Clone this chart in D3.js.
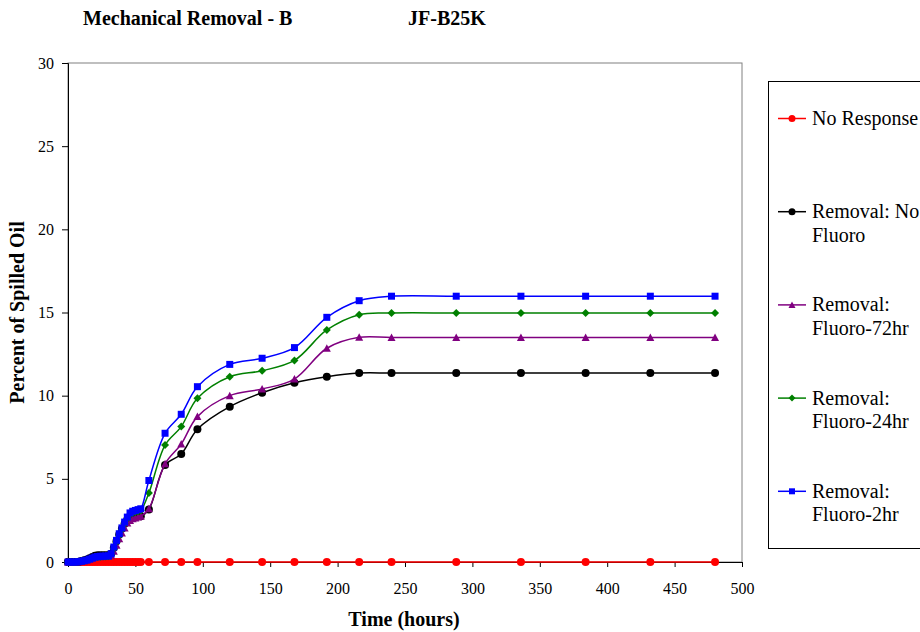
<!DOCTYPE html>
<html>
<head>
<meta charset="utf-8">
<script src="https://cdn.jsdelivr.net/npm/d3@7"></script>
<style>
  html, body { margin: 0; padding: 0; background: #fff; }
  svg { display: block; }
</style>
</head>
<body>
<script>
// ---- data ----
const times = [0,2,4,6,8,10,12,14,16,18,20,22,24,26,28,30,32,34,36,38,40,42,44,46,48,50,52,54,
               60,72,84,96,120,144,168,192,216,240,288,336,384,432,480];

const noResponse = times.map(() => 0);
const removalNoFluoro = [0,0,0,0,0.02,0.06,0.1,0.15,0.22,0.3,0.38,0.4,0.4,0.4,0.4,0.4,0.5,0.85,1.25,1.65,2.0,2.3,2.55,2.7,2.75,2.75,2.75,2.75,
               3.15,5.83,6.49,7.98,9.34,10.18,10.78,11.14,11.36,11.36,11.36,11.36,11.36,11.36,11.36];
const removalFluoro72 = [0,0,0,0,0.02,0.04,0.07,0.1,0.16,0.22,0.28,0.3,0.32,0.33,0.33,0.33,0.4,0.65,1.0,1.4,1.75,2.05,2.35,2.5,2.6,2.65,2.7,2.75,
               3.2,5.9,7.09,8.74,10.0,10.4,11.0,12.85,13.51,13.5,13.5,13.5,13.5,13.5,13.5];
const removalFluoro24 = [0,0,0,0,0.02,0.04,0.07,0.1,0.16,0.22,0.28,0.3,0.32,0.33,0.33,0.34,0.45,0.8,1.2,1.6,1.95,2.3,2.6,2.85,2.95,3.0,3.05,3.1,
               4.15,7.03,8.14,9.84,11.14,11.5,12.12,13.95,14.87,14.97,14.97,14.97,14.97,14.97,14.97];
const removalFluoro2 = [0,0,0,0,0.02,0.05,0.08,0.12,0.18,0.24,0.3,0.33,0.35,0.35,0.36,0.37,0.5,0.9,1.3,1.7,2.05,2.4,2.7,2.95,3.05,3.1,3.15,3.2,
               4.9,7.74,8.88,10.54,11.88,12.25,12.89,14.71,15.71,15.98,15.98,15.98,15.98,15.98,15.98];

const seriesNames = ["No Response", "Removal: No Fluoro", "Removal: Fluoro-72hr", "Removal: Fluoro-24hr", "Removal: Fluoro-2hr"];
const legendLines = [["No Response"], ["Removal: No", "Fluoro"], ["Removal:", "Fluoro-72hr"], ["Removal:", "Fluoro-24hr"], ["Removal:", "Fluoro-2hr"]];
const seriesColors = ["#FF0000", "#000000", "#800080", "#008000", "#0000FF"];
const seriesShapes = ["circle", "circle", "triangle", "diamond", "square"];
const seriesValues = [noResponse, removalNoFluoro, removalFluoro72, removalFluoro24, removalFluoro2];

const xTicks = [0,50,100,150,200,250,300,350,400,450,500];
const yTicks = [0,5,10,15,20,25,30];

const FONT = "'Liberation Serif', 'Times New Roman', serif";

// ---- layout ----
const W = 920, H = 632;
const plot = {left: 68, right: 742, top: 63, bottom: 562};

const svg = d3.select("body").append("svg").attr("width", W).attr("height", H);

const x = d3.scaleLinear().domain([0, 500]).range([plot.left, plot.right]);
const y = d3.scaleLinear().domain([0, 30]).range([plot.bottom, plot.top]);

// plot area border
svg.append("rect")
  .attr("x", plot.left).attr("y", plot.top)
  .attr("width", plot.right - plot.left).attr("height", plot.bottom - plot.top)
  .attr("fill", "none").attr("stroke", "#808080").attr("stroke-width", 1);

// axes
const xAxis = d3.axisBottom(x).tickValues(xTicks).tickSize(5).tickPadding(16).tickFormat(d3.format("d"));
const gx = svg.append("g").attr("transform", `translate(0,${plot.bottom})`).call(xAxis)
  .attr("font-family", null).attr("font-size", null);
gx.select(".domain").attr("stroke", "#000").attr("stroke-width", 1);
gx.selectAll(".tick line").attr("stroke", "#000");
gx.selectAll(".tick text").style("font-size", "16px").attr("fill", "#000").style("font-family", FONT);

const yAxis = d3.axisLeft(y).tickValues(yTicks).tickSize(6).tickPadding(8).tickFormat(d3.format("d"));
const gy = svg.append("g").attr("transform", `translate(${plot.left},0)`).call(yAxis)
  .attr("font-family", null).attr("font-size", null);
gy.select(".domain").attr("stroke", "#000").attr("stroke-width", 1);
gy.selectAll(".tick line").attr("stroke", "#000");
gy.selectAll(".tick text").style("font-size", "16px").attr("fill", "#000").style("font-family", FONT);

// titles
function boldText(xp, yp, s, anchor) {
  return svg.append("text").attr("x", xp).attr("y", yp).attr("text-anchor", anchor || "start")
    .style("font-family", FONT).style("font-size", "20px").style("font-weight", "bold").text(s);
}
boldText(83, 24.5, "Mechanical Removal - B");
boldText(408, 24.5, "JF-B25K");
boldText(404, 626, "Time (hours)", "middle");
svg.append("text")
  .attr("transform", `translate(24,${(plot.top + plot.bottom) / 2}) rotate(-90)`)
  .attr("text-anchor", "middle").style("font-family", FONT).style("font-size", "20px")
  .style("font-weight", "bold").text("Percent of Spilled Oil");

// markers
function markerPath(shape, s) {
  const h = s / 2;
  if (shape === "square") return `M${-h},${-h}H${h}V${h}H${-h}Z`;
  if (shape === "diamond") return `M0,${-h - 0.5}L${h + 0.5},0L0,${h + 0.5}L${-h - 0.5},0Z`;
  return `M0,${-h - 0.5}L${h + 0.5},${h}L${-h - 0.5},${h}Z`;
}
function drawMarker(g, shape, color, cx, cy, s) {
  if (shape === "circle") {
    g.append("circle").attr("cx", cx).attr("cy", cy).attr("r", s / 2 + 0.5).attr("fill", color);
  } else {
    g.append("path").attr("transform", `translate(${cx},${cy})`).attr("d", markerPath(shape, s)).attr("fill", color);
  }
}

const line = d3.line().x(d => x(d[0])).y(d => y(d[1])).curve(d3.curveCatmullRom.alpha(0.5));

const plotG = svg.append("g");
seriesValues.forEach((vals, i) => {
  const pts = times.map((t, j) => [t, vals[j]]);
  const g = plotG.append("g").attr("class", "series");
  g.append("path").datum(pts).attr("d", line)
    .attr("fill", "none").attr("stroke", seriesColors[i]).attr("stroke-width", 1.5);
  pts.forEach(p => drawMarker(g, seriesShapes[i], seriesColors[i], x(p[0]), y(p[1]), 7));
});

// legend
const lg = svg.append("g");
lg.append("rect").attr("x", 768.5).attr("y", 81.5).attr("width", 170).attr("height", 467)
  .attr("fill", "#fff").attr("stroke", "#000").attr("stroke-width", 1);
legendLines.forEach((lines, i) => {
  const baseY = 125 + i * 93.2;
  const my = baseY - 6.5;
  lg.append("line").attr("x1", 778).attr("x2", 806).attr("y1", my).attr("y2", my)
    .attr("stroke", seriesColors[i]).attr("stroke-width", 1.5);
  drawMarker(lg, seriesShapes[i], seriesColors[i], 792, my, 6);
  lines.forEach((s, k) => {
    lg.append("text").attr("x", 812).attr("y", baseY + k * 23.4)
      .style("font-family", FONT).style("font-size", "20px")
      .attr("fill", "#000").text(s);
  });
});
</script>
</body>
</html>
